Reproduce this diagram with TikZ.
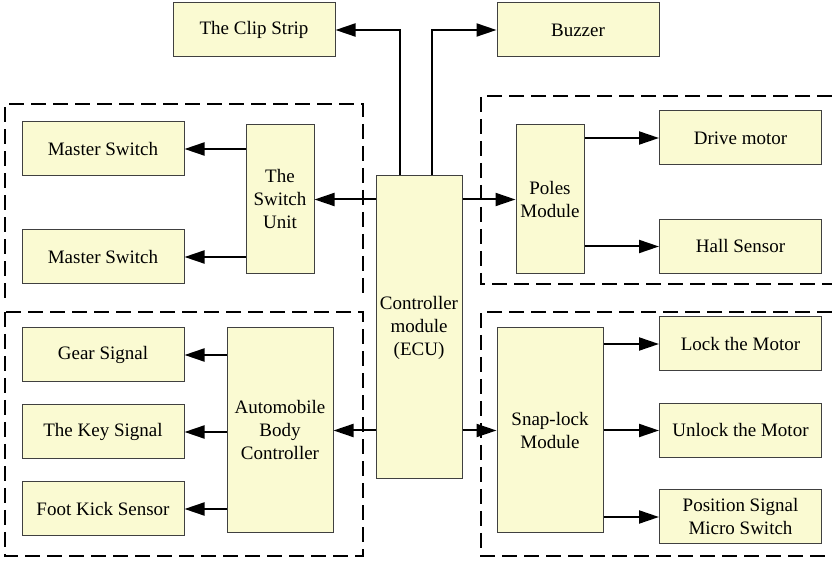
\documentclass[tikz,border=0pt]{standalone}
\usepackage{fontspec}
\setmainfont{Liberation Serif}
\usetikzlibrary{arrows.meta,positioning}
\definecolor{boxfill}{RGB}{250,250,210}
\tikzset{
  block/.style={draw=black!75, fill=boxfill, line width=0.5pt, inner sep=1pt,
    align=center, font=\fontsize{9.5}{11.5}\selectfont},
  leaf/.style={block, minimum width=81pt, minimum height=27pt},
  module/.style={block, minimum width=34pt, minimum height=74.5pt},
  bigmodule/.style={block, minimum width=53pt, minimum height=102.5pt},
  link/.style={line width=1pt, -{Triangle[length=10pt,width=6.5pt]}},
  group/.style={dash pattern=on 7.5pt off 3.5pt, line width=1pt}
}

\begin{document}
\begin{tikzpicture}[x=0.5pt,y=-0.5pt]
  \useasboundingbox (0,0) rectangle (832,561);

  % dashed groups
  \draw[group] (5,298) |- (363,104) -- (363,298);
  \draw[group] (5,312) rectangle (363,556);
  \draw[group] (832,96) -| (481,284) -- (832,284);
  \draw[group] (832,312) -| (481,556) -- (832,556);

  % central unit and top outputs
  \node[block, minimum width=43pt, minimum height=151.5pt] (ecu) at (419,327.5) {Controller\\module\\(ECU)};
  \node[leaf] (clip) at (254,30) {The Clip Strip};
  \node[leaf] (buzzer) at (578,30) {Buzzer};

  % switch group
  \node[module] (switch) at (280,199.5) {The\\Switch\\Unit};
  \node[leaf] (master1) at (103,149) {Master Switch};
  \node[leaf] (master2) at (103,257) {Master Switch};

  % poles group
  \node[module] (poles) at (550,199.5) {Poles\\Module};
  \node[leaf] (drive) at (740.5,138) {Drive motor};
  \node[leaf] (hall) at (740.5,246.5) {Hall Sensor};

  % body controller group
  \node[bigmodule] (body) at (280,430.5) {Automobile\\Body\\Controller};
  \node[leaf] (gear) at (103,355) {Gear Signal};
  \node[leaf] (key) [below=11pt of gear] {The Key Signal};
  \node[leaf] (kick) [below=11pt of key] {Foot Kick Sensor};

  % snap-lock group
  \node[bigmodule] (snap) at (550,430.5) {Snap-lock\\Module};
  \node[leaf] (lock) at (740.5,344) {Lock the Motor};
  \node[leaf] (unlock) at (740.5,430.5) {Unlock the Motor};
  \node[leaf] (position) at (740.5,517) {Position Signal\\Micro Switch};

  % connections
  \draw[link] ([xshift=-9.5pt]ecu.north) |- (clip);
  \draw[link] ([xshift=6.5pt]ecu.north) |- (buzzer);
  \draw[link] (ecu.west |- switch) -- (switch);
  \draw[link] (ecu.east |- poles) -- (poles);
  \draw[link] (ecu.west |- body) -- (body);
  \draw[link] (ecu.east |- snap) -- (snap);

  \draw[link] (switch.west |- master1) -- (master1);
  \draw[link] (switch.west |- master2) -- (master2);
  \draw[link] (poles.east |- drive) -- (drive);
  \draw[link] (poles.east |- hall) -- (hall);
  \draw[link] (body.west |- gear) -- (gear);
  \draw[link] (body.west |- key) -- (key);
  \draw[link] (body.west |- kick) -- (kick);
  \draw[link] (snap.east |- lock) -- (lock);
  \draw[link] (snap.east |- unlock) -- (unlock);
  \draw[link] (snap.east |- position) -- (position);
\end{tikzpicture}
\end{document}
